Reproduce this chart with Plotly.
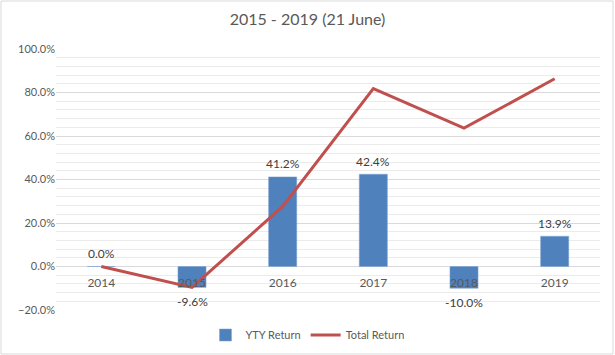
import plotly.graph_objects as go

years = ["2014", "2015", "2016", "2017", "2018", "2019"]
yty_return = [0.0, -9.6, 41.2, 42.4, -10.0, 13.9]
total_return = [0.0, -9.6, 27.6, 81.8, 63.6, 86.3]

yty = [v / 100 for v in yty_return]
tot = [v / 100 for v in total_return]

font_family = "Lato, 'Open Sans', sans-serif"

fig = go.Figure()
fig.add_trace(go.Bar(
    x=years, y=yty, name="YTY Return",
    marker=dict(color="#4F81BD", line=dict(color="#7EA3D2", width=0.5)),
))
fig.add_trace(go.Scatter(
    x=years, y=tot, name="Total Return", mode="lines",
    line=dict(color="#C0504D", width=3),
))

for i, (v, raw) in enumerate(zip(yty, yty_return)):
    fig.add_annotation(x=i, y=v, text=f"{raw:.1f}%", showarrow=False,
                       yshift=-14 if v < 0 else 13,
                       font=dict(size=12, color="#404040", family=font_family))

fig.update_layout(
    width=615, height=355,
    margin=dict(l=56, r=15, t=49, b=45, autoexpand=False),
    paper_bgcolor="white", plot_bgcolor="white",
    title=dict(text="2015 - 2019 (21 June)", x=0.5, xanchor="center", y=1 - 19 / 355, yanchor="middle",
               font=dict(size=16, color="#595959", family=font_family)),
    bargap=0.69,
    showlegend=True,
    legend=dict(orientation="h", xref="container", x=0.5, xanchor="center",
                yref="container", y=1 - 335 / 355, yanchor="middle",
                font=dict(size=11, color="#595959", family=font_family),
                traceorder="normal", itemwidth=30),
    font=dict(family=font_family),
)
fig.update_yaxes(
    range=[-0.2, 1.0], dtick=0.2, tick0=0, tickformat=".1%",
    showgrid=True, gridcolor="#D9D9D9", gridwidth=1,
    minor=dict(dtick=0.04, tick0=0, showgrid=True, gridcolor="#EBEBEB", gridwidth=1),
    zeroline=True, zerolinecolor="#D9D9D9", zerolinewidth=1,
    tickfont=dict(size=11, color="#595959", family=font_family),
    ticks="", showline=False,
)
fig.update_xaxes(
    type="category",
    anchor="free", position=1/6, showline=False, ticks="",
    ticklabelstandoff=7,
    tickfont=dict(size=12, color="#595959", family=font_family),
    showgrid=False,
)
fig.add_shape(type="rect", xref="paper", yref="paper",
              x0=-55/544, x1=1 + 13/544, y0=-44/261, y1=1 + 48/261,
              line=dict(color="#D9D9D9", width=1), layer="below")

fig.write_html("out.html", post_script="document.body.style.margin='0';",
               config={"displayModeBar": False})
